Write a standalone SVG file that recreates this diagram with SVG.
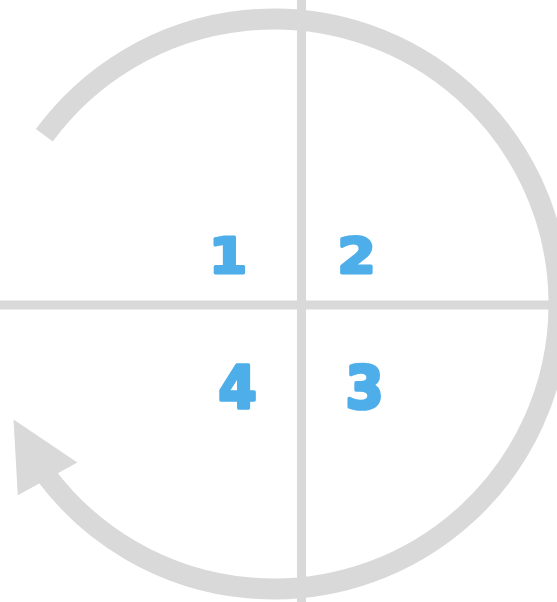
<svg xmlns="http://www.w3.org/2000/svg" width="557" height="602" viewBox="0 0 557 602">
<style>
.ln{stroke:#d9d9d9;fill:none}
.num{font-family:"DejaVu Sans",sans-serif;font-weight:bold;font-size:49px;fill:#4eaee9;stroke:#4eaee9;stroke-width:3;stroke-linejoin:round;text-anchor:middle}
</style>
<rect width="557" height="602" fill="#ffffff"/>
<g id="connectors">
<line class="ln" x1="301.5" y1="0" x2="301.5" y2="602" stroke-width="9"/>
<line class="ln" x1="0" y1="305" x2="555" y2="305" stroke-width="9"/>
<path class="ln" d="M 44.3 135.3 A 285 285 0 1 1 46.4 475.5" stroke-width="21"/>
<polygon points="13.5,419.6 77.4,462.6 17.8,495.2" fill="#d9d9d9"/>
</g>
<g id="q1"><text class="num" transform="translate(228,272.5) scale(1.12,1)">1</text></g>
<g id="q2"><text class="num" transform="translate(356.7,272.5) scale(1.12,1)">2</text></g>
<g id="q3"><text class="num" transform="translate(364.7,408.2) scale(1.12,1.2)">3</text></g>
<g id="q4"><text class="num" transform="translate(237.7,407.7) scale(1.12,1.2)">4</text></g>
</svg>
